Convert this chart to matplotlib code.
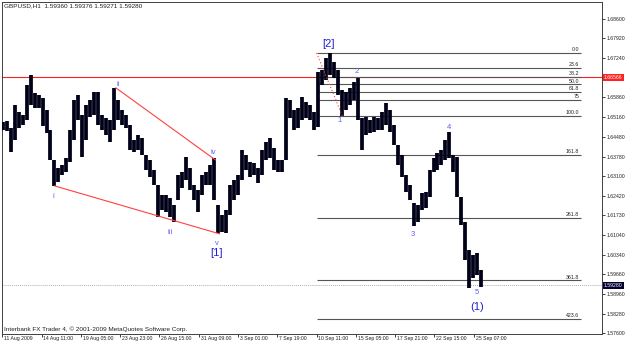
import matplotlib
matplotlib.use("Agg")
import matplotlib.pyplot as plt
import matplotlib.transforms as mtransforms
import numpy as np

# GBPUSD H1, 11 Aug - 25 Sep 2009 in ~6.5 bar columns
highs = [1.6500, 1.6503, 1.6479, 1.6559, 1.6535, 1.6524, 1.6629, 1.6664, 1.6601, 1.6594,
         1.6584, 1.6542, 1.6472, 1.6367, 1.6339, 1.6349, 1.6374, 1.6472, 1.6577, 1.6594,
         1.6524, 1.6559, 1.6577, 1.6605, 1.6605, 1.6524, 1.6514, 1.6507, 1.6619, 1.6577,
         1.6542, 1.6524, 1.6489, 1.6437, 1.6454, 1.6444, 1.6384, 1.6367, 1.6332, 1.6279,
         1.6244, 1.6244, 1.6234, 1.6209, 1.6314, 1.6325, 1.6377, 1.6339, 1.6279, 1.6262,
         1.6314, 1.6325, 1.6349, 1.6374, 1.6209, 1.6174, 1.6192, 1.6279, 1.6297, 1.6314,
         1.6402, 1.6384, 1.6360, 1.6356, 1.6339, 1.6402, 1.6430, 1.6444, 1.6409, 1.6367,
         1.6367, 1.6584, 1.6577, 1.6542, 1.6549, 1.6587, 1.6570, 1.6559, 1.6535, 1.6675,
         1.6682, 1.6724, 1.6741, 1.6710, 1.6682, 1.6612, 1.6605, 1.6619, 1.6640, 1.6654,
         1.6514, 1.6517, 1.6507, 1.6517, 1.6514, 1.6535, 1.6566, 1.6542, 1.6489, 1.6419,
         1.6384, 1.6314, 1.6279, 1.6216, 1.6209, 1.6251, 1.6255, 1.6332, 1.6374, 1.6391,
         1.6402, 1.6437, 1.6465, 1.6384, 1.6377, 1.6237, 1.6150, 1.6052, 1.6034, 1.6041,
         1.5982]
lows = [1.6472, 1.6468, 1.6395, 1.6437, 1.6479, 1.6489, 1.6507, 1.6559, 1.6549, 1.6549,
        1.6486, 1.6461, 1.6367, 1.6276, 1.6290, 1.6314, 1.6325, 1.6360, 1.6437, 1.6507,
        1.6377, 1.6437, 1.6517, 1.6524, 1.6489, 1.6472, 1.6454, 1.6430, 1.6472, 1.6507,
        1.6489, 1.6479, 1.6402, 1.6395, 1.6402, 1.6384, 1.6332, 1.6307, 1.6279, 1.6167,
        1.6192, 1.6185, 1.6167, 1.6150, 1.6227, 1.6269, 1.6297, 1.6262, 1.6227, 1.6185,
        1.6244, 1.6279, 1.6279, 1.6227, 1.6111, 1.6115, 1.6111, 1.6174, 1.6227, 1.6244,
        1.6297, 1.6332, 1.6307, 1.6314, 1.6286, 1.6314, 1.6367, 1.6374, 1.6332, 1.6325,
        1.6325, 1.6367, 1.6514, 1.6472, 1.6479, 1.6507, 1.6514, 1.6507, 1.6472, 1.6482,
        1.6629, 1.6647, 1.6664, 1.6654, 1.6594, 1.6521, 1.6542, 1.6559, 1.6577, 1.6507,
        1.6402, 1.6454, 1.6461, 1.6465, 1.6472, 1.6472, 1.6489, 1.6465, 1.6419, 1.6349,
        1.6307, 1.6255, 1.6227, 1.6136, 1.6150, 1.6192, 1.6199, 1.6237, 1.6325, 1.6332,
        1.6349, 1.6367, 1.6374, 1.6325, 1.6237, 1.6139, 1.6017, 1.5919, 1.5954, 1.5964,
        1.5922]
bars_per_col = 6.5

date_labels = ["11 Aug 2009", "14 Aug 11:00", "19 Aug 05:00", "23 Aug 23:00", "26 Aug 15:00",
               "31 Aug 09:00", "3 Sep 01:00", "7 Sep 19:00", "10 Sep 11:00", "15 Sep 05:00",
               "17 Sep 21:00", "22 Sep 15:00", "25 Sep 07:00"]
bars_per_label = 64

price_ticks = [1.68600, 1.67920, 1.67240, 1.65860, 1.65160, 1.64480, 1.63780, 1.63100,
               1.62420, 1.61730, 1.61040, 1.60340, 1.59660, 1.58960, 1.58280, 1.57600]
price_tick_labels = ["%.5f" % p for p in price_ticks]

red_level = 1.66566
bid = 1.59280
ohlc_text = "GBPUSD,H1  1.59360 1.59376 1.59271 1.59280"

# fibonacci retracement from [2] high to wave 1 low
fib_start, fib_high = 512, 1.6741
fib_mid, fib_low = 554, 1.6521
fib_end = 942
fib_levels = [0.0, 23.6, 38.2, 50.0, 61.8, 75, 100.0, 161.8, 261.8, 361.8, 423.6]
fib_names = ["0.0", "23.6", "38.2", "50.0", "61.8", "75", "100.0", "161.8", "261.8", "361.8", "423.6"]

# wedge trend lines (bar, price)
wedge_low = [(85, 1.6276), (354, 1.6108)]
wedge_high = [(185, 1.6619), (347, 1.6367)]

# wave labels
minor_labels = [("i", 83, 1.6240), ("ii", 189, 1.6629), ("iii", 274, 1.6111),
                ("iv", 343, 1.6391), ("v", 349, 1.6076), ("1", 549, 1.6503),
                ("2", 578, 1.6675), ("3", 668, 1.6104), ("4", 727, 1.6479),
                ("5", 773, 1.5901)]
major_labels = [("[1]", 349, 1.6041), ("[2]", 531, 1.6773), ("(1)", 773, 1.5852)]

plt.rcParams['font.family'] = ['Liberation Sans', 'DejaVu Sans']

fig = plt.figure(figsize=(6.25, 3.45), dpi=100)
ax = fig.add_axes([2 / 625, 11 / 345, 600 / 625, 332 / 345])
ax.set_xlim(-0.5, 977)
ax.set_ylim(1.57575, 1.69195)

x = 0.5 + np.arange(len(highs)) * bars_per_col
ax.vlines(x, lows, highs, color="#000018", lw=2.7, zorder=3)

# horizontal lines
ax.axhline(red_level, color="#ff2020", lw=0.8, zorder=2)
ax.axhline(bid, color="#b0b0b0", lw=0.7, ls=(0, (1, 1)), zorder=1)

# fib
fib_prices = [fib_high - lv / 100 * (fib_high - fib_low) for lv in fib_levels]
ax.hlines(fib_prices, fib_start, fib_end, color="#555555", lw=0.8, zorder=2)
for name, p in zip(fib_names, fib_prices):
    ax.annotate(name, (fib_end - 2, p), xytext=(0, 0.6), textcoords="offset points",
                ha="right", va="bottom", fontsize=3.8, color="#202020")
ax.plot([fib_start, fib_mid], [fib_high, fib_low], color="#ff4040", lw=0.8,
        ls=(0, (1, 2)), zorder=4)

# wedge
ax.plot(*zip(*wedge_low), color="#ff4040", lw=0.8, zorder=4)
ax.plot(*zip(*wedge_high), color="#ff4040", lw=0.8, zorder=4)

for t, bx, p in minor_labels:
    ax.text(bx, p, t, ha="center", va="center", fontsize=5.5, color="#6060f0", zorder=5)
for t, bx, p in major_labels:
    ax.text(bx, p, t, ha="center", va="center", fontsize=8, color="#2020d0", zorder=5)

# axes styling
for s in ax.spines.values():
    s.set_color("#404040")
    s.set_linewidth(0.7)
ax.yaxis.tick_right()
ax.set_yticks(price_ticks)
ax.set_yticklabels(price_tick_labels)
ax.tick_params(axis="y", length=2, width=0.6, pad=1, labelsize=3.7, colors="#202020")

xt = [i * bars_per_label for i in range(len(date_labels))]
ax.set_xticks(xt)
ax.set_xticklabels([])
ax.tick_params(axis="x", length=2.5, width=0.6, direction="out", colors="#202020")
trans = mtransforms.blended_transform_factory(ax.transData, ax.transAxes)
for pos, lab in zip(xt, date_labels):
    ax.text(pos + 3, -0.005, lab, transform=trans, ha="left", va="top",
            fontsize=3.7, color="#202020")

# price boxes
ax.annotate("1.66566", (1, red_level), xycoords=("axes fraction", "data"),
            xytext=(1.5, 0), textcoords="offset points", ha="left", va="center",
            fontsize=3.7, color="white",
            bbox=dict(boxstyle="square,pad=0.2", fc="#ff2020", ec="none"),
            annotation_clip=False)
ax.annotate("1.59280", (1, bid), xycoords=("axes fraction", "data"),
            xytext=(1.5, 0), textcoords="offset points", ha="left", va="center",
            fontsize=3.7, color="white",
            bbox=dict(boxstyle="square,pad=0.2", fc="#000030", ec="none"),
            annotation_clip=False)

fig.text(4 / 625, 1 - 6 / 345, ohlc_text, ha="left", va="center", fontsize=4.6, color="#202020")
fig.text(4 / 625, 1 - 329 / 345, "Interbank FX Trader 4, \u00a9 2001-2009 MetaQuotes Software Corp.",
         ha="left", va="center", fontsize=4.6, color="#202020")

fig.savefig("out.png", dpi=100)
